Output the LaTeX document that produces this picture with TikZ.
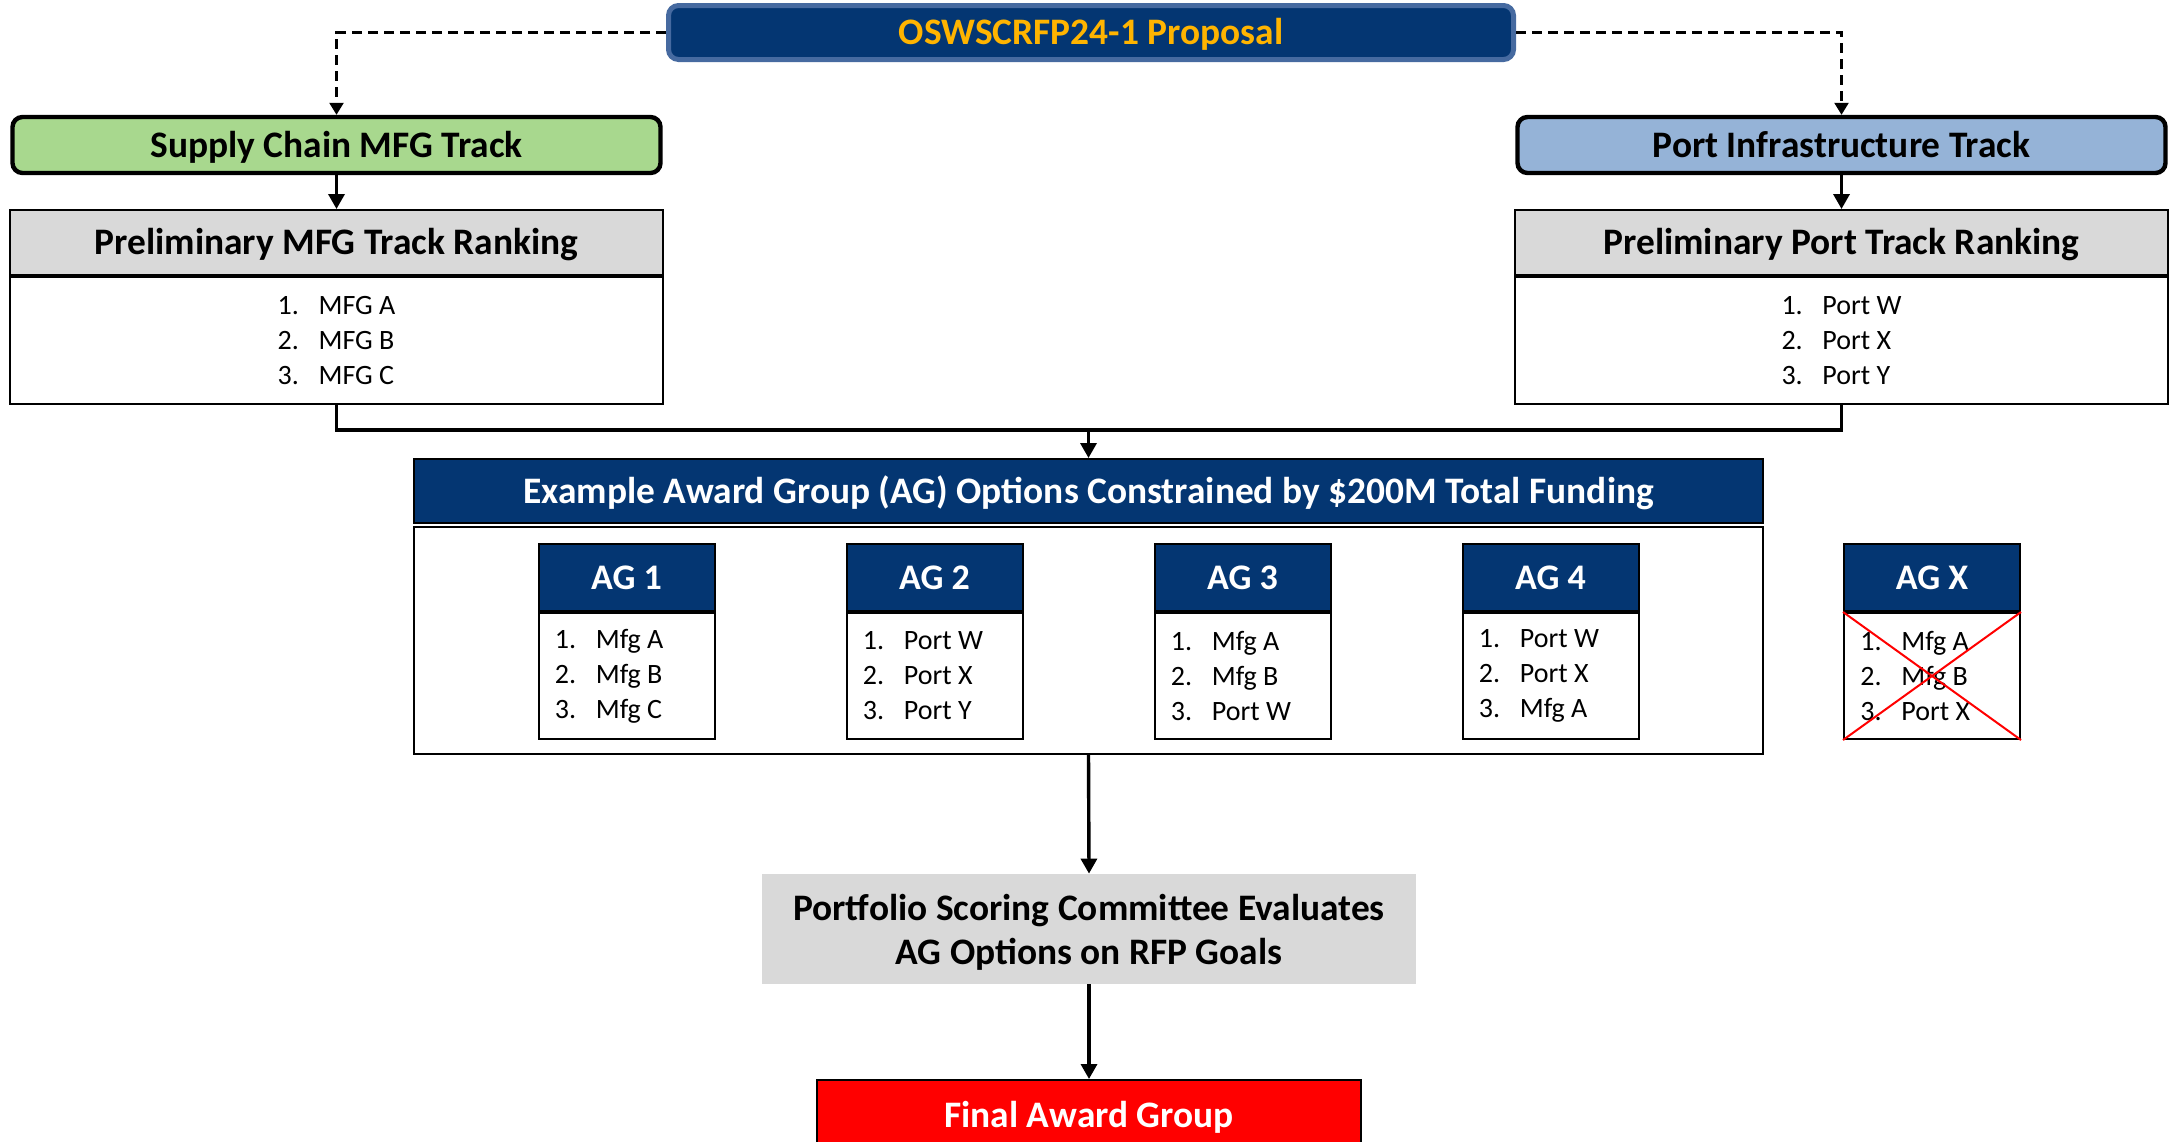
\documentclass[tikz,border=0pt]{standalone}
\usepackage{fontspec}
\setmainfont{Carlito}
\usetikzlibrary{arrows.meta}
\definecolor{navy}{RGB}{4,54,114}
\definecolor{navyedge}{RGB}{70,106,160}
\definecolor{gold}{RGB}{255,180,0}
\definecolor{lgreen}{RGB}{168,216,142}
\definecolor{lblue}{RGB}{149,179,215}
\definecolor{lgray}{RGB}{217,217,217}
\newcommand\itm[2]{\makebox[20.5pt][l]{#1}#2}
\newcommand\agbox[4]{%
  \node[aghead] (#1h) at (#2,577.5) {#3};
  \node[agbody, anchor=north] (#1b) at (#1h.south) {};
  \node[aglist, anchor=west] (#1l) at ([xshift=8.5pt]#1b.west) {#4};
}
\begin{document}
\begin{tikzpicture}[x=0.5pt,y=-0.5pt,
  bigfont/.style={font=\fontsize{18.7}{22}\selectfont\bfseries, text height=12pt, text depth=0pt},
  track/.style={draw=black, line width=2.2pt, rounded corners=5pt, minimum width=324pt, minimum height=28pt, inner sep=0pt, bigfont},
  head/.style={draw=black, line width=1pt, fill=lgray, minimum width=326.5pt, minimum height=32.5pt, inner sep=0pt, bigfont},
  body/.style={draw=black, line width=1pt, fill=white, minimum width=326.5pt, minimum height=63.5pt, inner sep=0pt, align=left, font=\fontsize{14}{17.5}\selectfont},
  aghead/.style={draw=black, line width=1pt, fill=navy, text=white, minimum width=88pt, minimum height=33.5pt, inner sep=0pt, font=\fontsize{18}{21}\selectfont\bfseries, text height=11.6pt, text depth=0pt},
  agbody/.style={draw=black, line width=1pt, fill=white, minimum width=88pt, minimum height=63pt, inner sep=0pt},
  aglist/.style={inner sep=0pt, align=left, font=\fontsize{14}{17.5}\selectfont},
  conn/.style={line width=1.7pt, -{Triangle[length=7.5pt,width=8pt]}},
  dashline/.style={line width=1.2pt, dash pattern=on 5pt off 3pt, -{Triangle[length=6pt,width=7pt]}},
  xline/.style={red, line width=1pt}
]
\useasboundingbox (0,0) rectangle (2177,1141);

\node[draw=navyedge, line width=2.5pt, fill=navy, rounded corners=5pt, minimum width=422.5pt, minimum height=27pt, inner sep=0pt, text=gold, bigfont] (prop) at (1091,32.5) {OSWSCRFP24-1 Proposal};

\node[track, fill=lgreen] (supply) at (336.5,145) {Supply Chain MFG Track};
\node[track, fill=lblue] (port) at (1841.5,145) {Port Infrastructure Track};

\node[head] (mfgHead) at (336.5,242.5) {Preliminary MFG Track Ranking};
\node[body, anchor=north] (mfgBody) at (mfgHead.south) {\itm{1.}{MFG A}\\\itm{2.}{MFG B}\\\itm{3.}{MFG C}};
\node[head] (portHead) at (1841.5,242.5) {Preliminary Port Track Ranking};
\node[body, anchor=north] (portBody) at (portHead.south) {\itm{1.}{Port W}\\\itm{2.}{Port X}\\\itm{3.}{Port Y}};

\node[draw=black, line width=1pt, fill=navy, text=white, minimum width=674.5pt, minimum height=32pt, inner sep=0pt, bigfont] (agHead) at (1088.5,491) {Example Award Group (AG) Options Constrained by \$200M Total Funding};
\node[draw=black, line width=1pt, fill=white, minimum width=674.5pt, minimum height=113.5pt, inner sep=0pt, anchor=north] (agBody) at (1088.5,526) {};

\agbox{agA}{626.5}{AG 1}{\itm{1.}{Mfg A}\\\itm{2.}{Mfg B}\\\itm{3.}{Mfg C}}
\agbox{agB}{934.5}{AG 2}{\itm{1.}{Port W}\\\itm{2.}{Port X}\\\itm{3.}{Port Y}}
\agbox{agC}{1242.5}{AG 3}{\itm{1.}{Mfg A}\\\itm{2.}{Mfg B}\\\itm{3.}{Port W}}
\agbox{agD}{1550.5}{AG 4}{\itm{1.}{Port W}\\\itm{2.}{Port X}\\\itm{3.}{Mfg A}}
\agbox{agX}{1932}{AG X}{\itm{1.}{Mfg A}\\\itm{2.}{Mfg B}\\\itm{3.}{Port X}}
\draw[xline] (agXb.north west) -- (agXb.south east);
\draw[xline] (agXb.south west) -- (agXb.north east);

\node[fill=lgray, minimum width=327pt, minimum height=55pt, inner sep=0pt] (portfolio) at (1089,929) {};
\node[inner sep=0pt, align=center, font=\fontsize{18.7}{22}\selectfont\bfseries] (portText) at (1089,932) {Portfolio Scoring Committee Evaluates\\AG Options on RFP Goals};

\node[draw=black, line width=1pt, fill=red, text=white, minimum width=272pt, minimum height=35pt, inner sep=0pt, bigfont] (final) at (1089,1115) {Final Award Group};

\draw[dashline] (prop.west) -| (supply.north);
\draw[dashline] (prop.east) -| (port.north);
\draw[conn] (supply.south) -- (mfgHead.north);
\draw[conn] (port.south) -- (portHead.north);
\coordinate (jl) at (336.5,430);
\coordinate (jr) at (1841.5,430);
\draw[line width=1.7pt] (mfgBody.south) -- (jl) -- (jr) -- (portBody.south);
\draw[conn] (agHead.north |- jl) -- (agHead.north);
\draw[conn] (agBody.south) -- (portfolio.north);
\draw[conn] (portfolio.south) -- (final.north);
\end{tikzpicture}
\end{document}
